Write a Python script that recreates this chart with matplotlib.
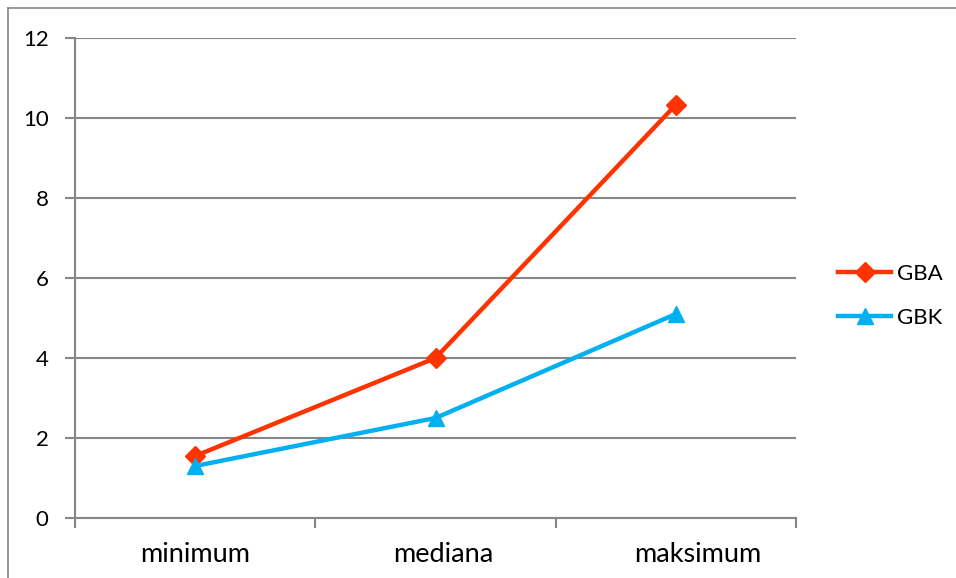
import matplotlib
matplotlib.use("Agg")
import matplotlib.pyplot as plt
from matplotlib.lines import Line2D
from matplotlib.transforms import ScaledTranslation

plt.rcParams['font.family'] = ['Lato', 'DejaVu Sans']

categories = ["minimum", "mediana", "maksimum"]
gba = [1.55, 4.0, 10.33]
gbk = [1.3, 2.5, 5.1]
yticks = [0, 2, 4, 6, 8, 10, 12]

grey = "#868686"
fig = plt.figure(figsize=(9.56, 5.78), dpi=100)
ax = fig.add_axes([75 / 956, 1 - 518 / 578, (796 - 75) / 956, 480 / 578])

x = list(range(len(categories)))
ax.plot(x, gba, color="#FF3300", lw=3.2, marker="D", markersize=10, label="GBA", zorder=3)
ax.plot(x, gbk, color="#00B0F0", lw=3.2, marker="^", markersize=11, label="GBK", zorder=3)

ax.set_xlim(-0.5, len(categories) - 0.5)
ax.set_ylim(0, 12)
ax.set_yticks(yticks)
ax.set_yticklabels([str(v) for v in yticks])
ax.set_xticks(x)
ax.set_xticklabels(categories)
ax.set_xticks([i - 0.5 for i in range(len(categories) + 1)], minor=True)
ax.tick_params(axis="x", which="major", length=0, pad=17, labelsize=19.5)
ax.tick_params(axis="x", which="minor", length=7, width=1.5, color=grey, direction="out")
ax.tick_params(axis="y", length=7, width=1.5, color=grey, pad=12, labelsize=16)

# nudge category labels slightly to the right
for lbl, dx in zip(ax.get_xticklabels(), [0.0, 0.08, 0.22]):
    lbl.set_transform(lbl.get_transform() + ScaledTranslation(dx, 0, fig.dpi_scale_trans))

ax.grid(axis="y", color=grey, lw=1.5, zorder=0)
ax.set_axisbelow(True)
for side in ["top", "right"]:
    ax.spines[side].set_visible(False)
for side in ["left", "bottom"]:
    ax.spines[side].set_color(grey)
    ax.spines[side].set_linewidth(1.5)

leg = ax.legend(loc="center left", bbox_to_anchor=(838 / 956, 1 - 296 / 578),
                bbox_transform=fig.transFigure, frameon=False, fontsize=16,
                handlelength=2.4, handletextpad=0.25, labelspacing=1.1,
                borderpad=0, borderaxespad=0)

# outer chart frame (top and left edges)
fig.add_artist(Line2D([8 / 956, 1.0], [1 - 8 / 578, 1 - 8 / 578], transform=fig.transFigure,
                      color=grey, lw=1.2))
fig.add_artist(Line2D([8 / 956, 8 / 956], [0.0, 1 - 8 / 578], transform=fig.transFigure,
                      color=grey, lw=1.2))

fig.savefig("out.png", dpi=100)
